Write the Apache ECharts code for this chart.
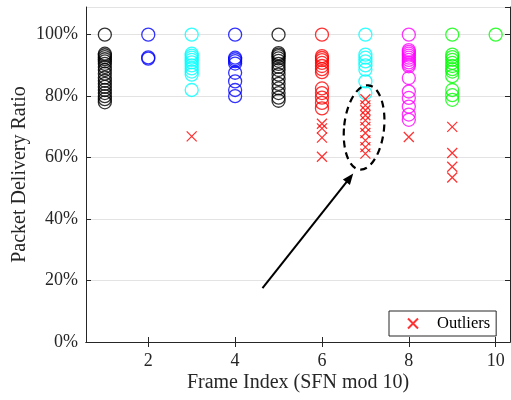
<!DOCTYPE html>
<html>
<head>
<meta charset="utf-8">
<script src="https://cdn.jsdelivr.net/npm/echarts@6/dist/echarts.min.js"></script>
<style>
  html, body { margin: 0; padding: 0; background: #fff; }
  #chart { width: 511px; height: 400px; }
</style>
</head>
<body>
<div id="chart"></div>
<script>
// Frame index (SFN mod 10) and the colour used for each frame's circles
const frames = [1, 2, 3, 4, 5, 6, 7, 8, 9, 10];
const frameColors = ['#000000', '#0000ff', '#00ffff', '#0000ff', '#000000',
                     '#ff0000', '#00ffff', '#ff00ff', '#00ff00', '#00ff00'];

// Packet delivery ratio (%) per frame
const pdrFrame1 = [100, 93.8, 93.3, 92.7, 92, 91.3, 90.5, 89.5, 88.5, 87.3, 86, 85, 84, 83, 82, 81, 80, 79, 78];
const pdrFrame2 = [100, 92.6, 92.2];
const pdrFrame3 = [100, 93.8, 93.2, 92.5, 91.8, 91, 90, 89, 88, 87, 82];
const pdrFrame4 = [100, 92.5, 92, 91.4, 90.6, 87.6, 84.8, 82, 80];
const pdrFrame5 = [100, 94, 93.5, 93, 92.3, 91.5, 90.5, 89.5, 88.5, 87, 85.5, 84, 82.5, 81, 79.5, 78.5];
const pdrFrame6 = [100, 93, 92.4, 91.7, 90.8, 89.8, 88.8, 87.8, 82.5, 81, 79.5, 77.8, 76];
const pdrFrame7 = [100, 93.5, 92.5, 91.3, 90, 88.6, 84.8, 81];
const pdrFrame8 = [100, 95, 94.4, 93.8, 93.2, 92.5, 91.8, 91, 90.3, 89.7, 85.9, 81.5, 79.4, 76.6, 74, 72.3];
const pdrFrame9 = [100, 93.5, 92.7, 91.8, 90.8, 89.8, 88.8, 88, 86.5, 82, 80.3, 78.8];
const pdrFrame10 = [100];
const pdrByFrame = [pdrFrame1, pdrFrame2, pdrFrame3, pdrFrame4, pdrFrame5,
                    pdrFrame6, pdrFrame7, pdrFrame8, pdrFrame9, pdrFrame10];

// Outlier ratios (%) per frame
const outlierFrames = [3, 6, 7, 8, 9];
const outlierValues = [
  [66.9],
  [71, 69.5, 66.5, 60.3],
  [79, 77, 75.4, 73.8, 72.1, 70, 68, 65.6, 63.4, 61.3],
  [66.7],
  [70, 61.5, 57, 53.5]
];

// Axis ticks
const xTicks = [2, 4, 6, 8, 10];

const FONT = 'Liberation Serif';
const AXIS = '#262626';
const CROSS = 'path://M0,0L10,10M10,0L0,10';

const circleSeries = frames.map((f, i) => ({
  type: 'scatter',
  name: 'Frame ' + f,
  data: pdrByFrame[i].map(v => [f, v]),
  symbol: 'circle',
  symbolSize: 13,
  itemStyle: { color: 'transparent', borderColor: frameColors[i], borderWidth: 1.3 },
  emphasis: { disabled: true },
  z: 2
}));

const outlierData = [];
outlierFrames.forEach((f, i) => outlierValues[i].forEach(v => outlierData.push([f, v])));

const outlierSeries = {
  type: 'scatter',
  name: 'Outliers',
  data: outlierData,
  symbol: CROSS,
  symbolSize: 10,
  itemStyle: { color: 'transparent', borderColor: '#ff0000', borderWidth: 1.3 },
  emphasis: { disabled: true },
  z: 3
};

const chart = echarts.init(document.getElementById('chart'));

const xBase = {
  type: 'value', min: 0.566, max: 10.33,
  axisLine: { show: true, lineStyle: { color: AXIS, width: 1 } },
  splitLine: { show: false }
};
const yBase = {
  type: 'value', min: 0, max: 109, interval: 20,
  axisLine: { show: true, lineStyle: { color: AXIS, width: 1 } }
};

chart.setOption({
  animation: false,
  backgroundColor: '#fff',
  grid: { left: 86, right: 1, top: 7, bottom: 58, containLabel: false, outerBoundsMode: 'none' },
  legend: {
    data: ['Outliers'],
    left: 389, top: 311,
    orient: 'vertical',
    backgroundColor: '#fff',
    borderColor: AXIS, borderWidth: 1,
    padding: [4, 6, 4, 18],
    itemWidth: 10, itemHeight: 10, itemGap: 0,
    textStyle: { fontFamily: FONT, fontSize: 16.5, color: '#000', padding: [0, 0, 0, 14] },
    selectedMode: false
  },
  xAxis: [
    Object.assign({}, xBase, {
      position: 'bottom',
      name: 'Frame Index (SFN mod 10)',
      nameLocation: 'middle', nameGap: 31, nameMoveOverlap: false,
      nameTextStyle: { fontFamily: FONT, fontSize: 20, color: AXIS },
      axisTick: { show: true, inside: true, length: 5, customValues: xTicks, lineStyle: { color: AXIS } },
      axisLabel: { show: true, customValues: xTicks, margin: 10, fontFamily: FONT, fontSize: 18, color: AXIS }
    }),
    Object.assign({}, xBase, {
      position: 'top',
      axisTick: { show: true, inside: true, length: 5, customValues: xTicks, lineStyle: { color: AXIS } },
      axisLabel: { show: false }
    })
  ],
  yAxis: [
    Object.assign({}, yBase, {
      position: 'left',
      name: 'Packet Delivery Ratio',
      nameLocation: 'middle', nameGap: 56, nameRotate: 90, nameMoveOverlap: false,
      nameTextStyle: { fontFamily: FONT, fontSize: 20, color: AXIS },
      axisTick: { show: true, inside: true, length: 5, lineStyle: { color: AXIS } },
      axisLabel: { show: true, showMaxLabel: false, margin: 8, fontFamily: FONT, fontSize: 18, color: AXIS,
                   formatter: '{value}%' },
      splitLine: { show: true, lineStyle: { color: '#e3e3e3', width: 1 } }
    }),
    Object.assign({}, yBase, {
      position: 'right',
      axisTick: { show: true, inside: true, length: 5, lineStyle: { color: AXIS } },
      axisLabel: { show: false },
      splitLine: { show: false }
    })
  ],
  series: circleSeries.concat([outlierSeries])
});

// Annotation: dashed ellipse around the frame-7 outliers and an arrow pointing to it
const ellipse = { cx: 6.97, cy: 69.8, rx: 0.46, ry: 13.8, tilt: -6 };
const arrow = { from: [4.63, 17.5], to: [6.72, 54.8] };

function px(p) { return chart.convertToPixel({ xAxisIndex: 0, yAxisIndex: 0 }, p); }

const c = px([ellipse.cx, ellipse.cy]);
const e1 = px([ellipse.cx + ellipse.rx, ellipse.cy + ellipse.ry]);
const rxPx = Math.abs(e1[0] - c[0]);
const ryPx = Math.abs(e1[1] - c[1]);
const a0 = px(arrow.from);
const a1 = px(arrow.to);
const ang = Math.atan2(a1[1] - a0[1], a1[0] - a0[0]);
const headLen = 11, headW = 4.5;
const back = [a1[0] - headLen * Math.cos(ang), a1[1] - headLen * Math.sin(ang)];
const nx = -Math.sin(ang), ny = Math.cos(ang);

chart.setOption({
  graphic: [
    {
      type: 'ellipse',
      x: c[0], y: c[1],
      rotation: ellipse.tilt * Math.PI / 180,
      shape: { cx: 0, cy: 0, rx: rxPx, ry: ryPx },
      style: { fill: 'none', stroke: '#000', lineWidth: 2.2, lineDash: [7, 5] },
      z: 10, silent: true
    },
    {
      type: 'line',
      shape: { x1: a0[0], y1: a0[1], x2: back[0] + 2 * Math.cos(ang), y2: back[1] + 2 * Math.sin(ang) },
      style: { stroke: '#000', lineWidth: 2 },
      z: 10, silent: true
    },
    {
      type: 'polygon',
      shape: { points: [a1, [back[0] + nx * headW, back[1] + ny * headW], [back[0] - nx * headW, back[1] - ny * headW]] },
      style: { fill: '#000' },
      z: 10, silent: true
    }
  ]
});
</script>
</body>
</html>
